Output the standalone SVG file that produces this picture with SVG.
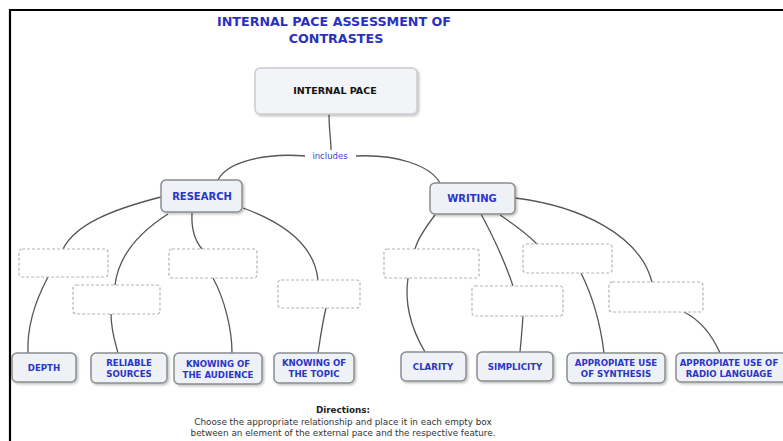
<svg xmlns="http://www.w3.org/2000/svg" width="783" height="441" viewBox="0 0 783 441">
<style>
.title{font-family:"DejaVu Sans",Verdana,sans-serif;font-weight:bold;font-size:12.7px;fill:#2a30c0;text-anchor:middle}
.node rect{fill:#eef2f6;stroke:#8a8d90;stroke-width:1.5}
.node text{font-family:"DejaVu Sans",Verdana,sans-serif;font-weight:bold;font-size:8.6px;fill:#2a35c8;text-anchor:middle}
.blank rect{fill:#ffffff;stroke:#b4b4b4;stroke-width:1.2;stroke-dasharray:3 2}
.conn path{fill:none;stroke:#555;stroke-width:1.3}
.dir{font-family:"DejaVu Sans",Verdana,sans-serif;font-size:8.8px;fill:#333;text-anchor:middle}
</style>
<defs>
<filter id="sh" x="-10%" y="-10%" width="130%" height="140%">
<feDropShadow dx="1.5" dy="1.5" stdDeviation="1.2" flood-color="#000" flood-opacity="0.25"/>
</filter>
</defs>
<rect x="0" y="0" width="783" height="441" fill="#ffffff"/>
<!-- frame -->
<path d="M10 441 V10 H783" fill="none" stroke="#000" stroke-width="2.2"/>
<!-- title -->
<g id="title">
<text class="title" x="334" y="26">INTERNAL PACE ASSESSMENT OF</text>
<text class="title" x="336" y="43">CONTRASTES</text>
</g>
<!-- connectors -->
<g id="connectors" class="conn">
<path d="M329 114 C329 130 331 140 331 150"/>
<path d="M305 156 C270 153 228 160 218 180"/>
<path d="M356 156 C395 154 430 165 440 183"/>
<path d="M161 197 C110 210 75 225 63 249"/>
<path d="M168 214 C135 235 118 260 115 285"/>
<path d="M192 213 C191 232 196 242 202 249"/>
<path d="M243 208 C290 225 315 250 318 280"/>
<path d="M48 277 C33 305 27 330 28 353"/>
<path d="M111 314 C111 330 115 342 118 353"/>
<path d="M213 278 C225 300 232 330 232 353"/>
<path d="M326 308 C322 325 320 340 318 353"/>
<path d="M435 215 C425 228 418 238 415 249"/>
<path d="M481 214 C495 240 505 262 513 286"/>
<path d="M500 215 C515 225 528 235 537 244"/>
<path d="M515 198 C580 206 640 235 652 282"/>
<path d="M408 278 C404 305 412 330 425 352"/>
<path d="M523 316 C522 330 521 342 520 352"/>
<path d="M581 273 C592 295 600 320 604 353"/>
<path d="M684 312 C700 320 712 335 720 353"/>
</g>
<g id="includes">
<text x="330" y="159" font-family="DejaVu Sans,Verdana,sans-serif" font-size="8.5" fill="#3a44d0" text-anchor="middle">includes</text>
</g>
<!-- main nodes -->
<g id="internal-pace" class="node">
<rect x="255" y="68" width="162" height="46" rx="5" filter="url(#sh)" style="fill:#f2f4f7;stroke:#c9ccd0"/>
<text x="335" y="94" style="fill:#111;font-size:9.5px">INTERNAL PACE</text>
</g>
<g id="research" class="node">
<rect x="161" y="180" width="81" height="32" rx="5" filter="url(#sh)"/>
<text x="202" y="200" style="font-size:10px">RESEARCH</text>
</g>
<g id="writing" class="node">
<rect x="430" y="183" width="85" height="31" rx="5" filter="url(#sh)"/>
<text x="472" y="202" style="font-size:10px">WRITING</text>
</g>
<!-- blank boxes -->
<g id="blank-a" class="blank"><rect x="19" y="249" width="89" height="28" rx="3"/></g>
<g id="blank-b" class="blank"><rect x="73" y="285" width="87" height="29" rx="3"/></g>
<g id="blank-c" class="blank"><rect x="169" y="249" width="88" height="29" rx="3"/></g>
<g id="blank-d" class="blank"><rect x="278" y="280" width="82" height="28" rx="3"/></g>
<g id="blank-e" class="blank"><rect x="384" y="249" width="95" height="29" rx="3"/></g>
<g id="blank-f" class="blank"><rect x="472" y="286" width="91" height="30" rx="3"/></g>
<g id="blank-g" class="blank"><rect x="523" y="244" width="89" height="29" rx="3"/></g>
<g id="blank-h" class="blank"><rect x="609" y="282" width="94" height="30" rx="3"/></g>
<!-- leaf nodes -->
<g id="depth" class="node">
<rect x="12" y="353" width="64" height="29" rx="5" filter="url(#sh)"/>
<text x="44" y="371">DEPTH</text>
</g>
<g id="reliable-sources" class="node">
<rect x="91" y="353" width="76" height="30" rx="5" filter="url(#sh)"/>
<text x="129" y="366">RELIABLE</text>
<text x="129" y="377">SOURCES</text>
</g>
<g id="knowing-audience" class="node">
<rect x="174" y="353" width="88" height="31" rx="5" filter="url(#sh)"/>
<text x="218" y="367">KNOWING OF</text>
<text x="218" y="378">THE AUDIENCE</text>
</g>
<g id="knowing-topic" class="node">
<rect x="274" y="353" width="80" height="30" rx="5" filter="url(#sh)"/>
<text x="314" y="366">KNOWING OF</text>
<text x="314" y="377">THE TOPIC</text>
</g>
<g id="clarity" class="node">
<rect x="401" y="352" width="65" height="29" rx="5" filter="url(#sh)"/>
<text x="433" y="370">CLARITY</text>
</g>
<g id="simplicity" class="node">
<rect x="477" y="352" width="76" height="29" rx="5" filter="url(#sh)"/>
<text x="515" y="370">SIMPLICITY</text>
</g>
<g id="synthesis" class="node">
<rect x="567" y="353" width="98" height="30" rx="5" filter="url(#sh)"/>
<text x="616" y="366">APPROPIATE USE</text>
<text x="616" y="377">OF SYNTHESIS</text>
</g>
<g id="radio-language" class="node">
<rect x="676" y="353" width="112" height="29" rx="5" filter="url(#sh)"/>
<text x="729" y="366">APPROPIATE USE OF</text>
<text x="729" y="377">RADIO LANGUAGE</text>
</g>
<!-- directions -->
<g id="directions">
<text class="dir" x="343" y="413" style="font-weight:bold;font-size:8.8px;fill:#222">Directions:</text>
<text class="dir" x="343" y="425">Choose the appropriate relationship and place it in each empty box</text>
<text class="dir" x="343" y="436">between an element of the external pace and the respective feature.</text>
</g>
</svg>
